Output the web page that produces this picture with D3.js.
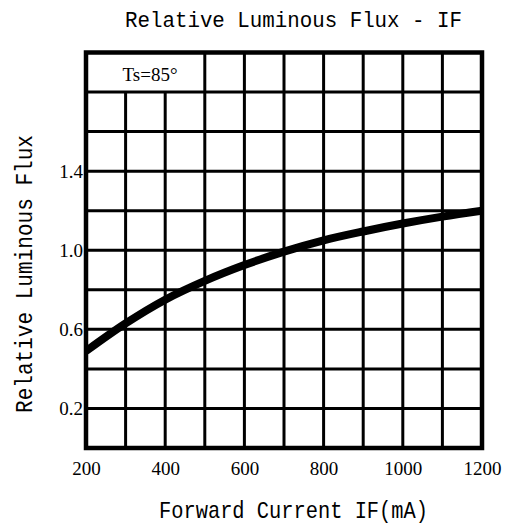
<!DOCTYPE html>
<html>
<head>
<meta charset="utf-8">
<script src="https://cdn.jsdelivr.net/npm/d3@7"></script>
<style>
  html, body { margin: 0; padding: 0; background: #fff; }
  svg { display: block; }
</style>
</head>
<body>
<svg id="chart" width="515" height="524"></svg>
<script>
// ---- data ----
const currents = [200, 300, 400, 500, 600, 700, 800, 900, 1000, 1100, 1200];
const fluxValues = [0.49, 0.63, 0.75, 0.845, 0.925, 0.993, 1.05, 1.095, 1.135, 1.17, 1.2];
const xTickValues = [200, 400, 600, 800, 1000, 1200];
const yTickValues = [0.2, 0.6, 1.0, 1.4];
const xGridValues = [300, 400, 500, 600, 700, 800, 900, 1000, 1100];
const yGridValues = [0.2, 0.4, 0.6, 0.8, 1.0, 1.2, 1.4, 1.6, 1.8];
const chartTitle = "Relative Luminous Flux - IF";
const xTitle = "Forward Current IF(mA)";
const yTitle = "Relative Luminous Flux";
const noteText = "Ts=85°";

(function () {
// ---- layout ----
const pLeft = 86, pRight = 482, pTop = 52.5, pBottom = 448;
const svg = d3.select("#chart");

const x = d3.scaleLinear().domain([200, 1200]).range([pLeft, pRight]);
const y = d3.scaleLinear().domain([0, 2.0]).range([pBottom, pTop]);

const mono = "'Liberation Mono', 'DejaVu Sans Mono', monospace";
const serif = "'Liberation Serif', 'DejaVu Serif', serif";

// grid
const g = svg.append("g");
g.selectAll("line.h").data(yGridValues).enter().append("line")
  .attr("x1", pLeft).attr("x2", pRight)
  .attr("y1", d => y(d)).attr("y2", d => y(d))
  .attr("stroke", "#000").attr("stroke-width", 3);
g.selectAll("line.v").data(xGridValues).enter().append("line")
  .attr("x1", d => x(d)).attr("x2", d => x(d))
  .attr("y1", d => d <= 400 ? y(1.8) : pTop).attr("y2", pBottom)
  .attr("stroke", "#000").attr("stroke-width", 3);

// clip
svg.append("clipPath").attr("id", "clip").append("rect")
  .attr("x", pLeft).attr("y", pTop).attr("width", pRight - pLeft).attr("height", pBottom - pTop);

// curve
const data = currents.map((c, i) => [c, fluxValues[i]]);
svg.append("path")
  .datum(data)
  .attr("clip-path", "url(#clip)")
  .attr("fill", "none")
  .attr("stroke", "#000")
  .attr("stroke-width", 8)
  .attr("d", d3.line().x(d => x(d[0])).y(d => y(d[1])).curve(d3.curveCatmullRom.alpha(0.5)));

// border
svg.append("rect")
  .attr("x", pLeft).attr("y", pTop).attr("width", pRight - pLeft).attr("height", pBottom - pTop)
  .attr("fill", "none").attr("stroke", "#000").attr("stroke-width", 4.5);

// note
svg.append("text")
  .attr("x", 150).attr("y", 80.5)
  .attr("text-anchor", "middle")
  .style("font-family", serif).style("font-size", "19px")
  .text(noteText);

// x axis labels
const xAxis = d3.axisBottom(x).tickValues(xTickValues).tickSize(0).tickPadding(0)
  .tickFormat(d3.format("d"));
const xa = svg.append("g").attr("transform", `translate(0,${pBottom})`).call(xAxis);
xa.select(".domain").remove();
xa.selectAll("text")
  .attr("dy", null).attr("y", 27)
  .style("font-family", serif).style("font-size", "19px").attr("fill", "#000");

// y axis labels
const yAxis = d3.axisLeft(y).tickValues(yTickValues).tickSize(0).tickPadding(0)
  .tickFormat(d3.format(".1f"));
const ya = svg.append("g").attr("transform", `translate(${pLeft - 3},0)`).call(yAxis);
ya.select(".domain").remove();
ya.selectAll("text")
  .attr("dy", "0.34em")
  .style("font-family", serif).style("font-size", "19px").attr("fill", "#000");

// titles
svg.append("text")
  .attr("x", 293.5).attr("y", 27)
  .attr("text-anchor", "middle")
  .attr("textLength", 337).attr("lengthAdjust", "spacingAndGlyphs")
  .style("font-family", mono).style("font-size", "22px")
  .text(chartTitle);

svg.append("text")
  .attr("x", 293.5).attr("y", 518)
  .attr("text-anchor", "middle")
  .attr("textLength", 269).attr("lengthAdjust", "spacingAndGlyphs")
  .style("font-family", mono).style("font-size", "24px")
  .text(xTitle);

svg.append("text")
  .attr("transform", "translate(32,274) rotate(-90)")
  .attr("text-anchor", "middle")
  .attr("textLength", 278).attr("lengthAdjust", "spacingAndGlyphs")
  .style("font-family", mono).style("font-size", "24px")
  .text(yTitle);
})();
</script>
</body>
</html>
